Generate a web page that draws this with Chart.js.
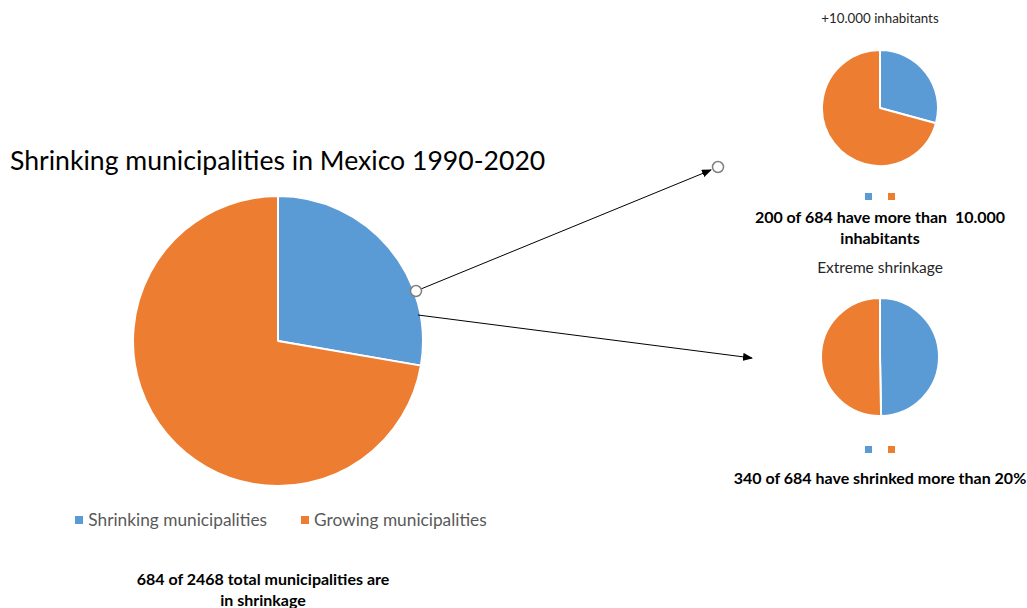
<!DOCTYPE html>
<html>
<head>
<meta charset="utf-8">
<script src="https://cdn.jsdelivr.net/npm/chart.js@4.4.1/dist/chart.umd.min.js"></script>
<style>
  body { margin: 0; width: 1027px; height: 608px; background: #fff; position: relative; overflow: hidden; font-family: Lato, "Open Sans", sans-serif; color: #000; }
  .abs { position: absolute; }
  .title { left: 10px; top: 145px; font-size: 26.6px; line-height: 30px; color: #000; white-space: nowrap; }
  .legend { left: 0; width: 562px; top: 509px; text-align: center; font-size: 17.3px; color: #595959; white-space: nowrap; }
  .legend span.item { margin: 0 17px; }
  .legend i { display: inline-block; width: 8px; height: 8px; margin-right: 5px; vertical-align: 2px; }
  .cap { text-align: center; font-weight: bold; font-size: 16px; line-height: 21px; white-space: nowrap; }
  .sub { text-align: center; font-size: 13px; color: #262626; white-space: nowrap; }
  .mini i { display: inline-block; width: 7px; height: 7px; margin: 0 8px; }
  svg { position: absolute; left: 0; top: 0; }
</style>
</head>
<body>
<div class="abs title">Shrinking municipalities in Mexico 1990-2020</div>
<canvas id="pieTotal" class="abs" width="292" height="292" style="left:132px;top:195px"></canvas>
<div id="legendTotal" class="abs legend"></div>
<div class="abs cap" style="left:113px;width:300px;top:568px">684 of 2468 total municipalities are<br>in shrinkage</div>

<div class="abs sub" style="left:780px;width:200px;top:10px;font-size:13.3px">+10.000 inhabitants</div>
<canvas id="pieBig" class="abs" width="118" height="118" style="left:821px;top:49px"></canvas>
<div id="miniBig" class="abs mini" style="left:780px;width:200px;top:184px;text-align:center"></div>
<div class="abs cap" style="left:730px;width:300px;top:206px">200 of 684 have more than&nbsp; 10.000<br>inhabitants</div>

<div class="abs sub" style="left:780px;width:200px;top:258px;font-size:15.5px">Extreme shrinkage</div>
<canvas id="pieExtreme" class="abs" width="120" height="120" style="left:820px;top:297px"></canvas>
<div id="miniExtreme" class="abs mini" style="left:780px;width:200px;top:437px;text-align:center"></div>
<div class="abs cap" style="left:730px;width:300px;top:467px">340 of 684 have shrinked more than 20%</div>

<svg width="1027" height="608">
  <defs>
    <marker id="head" markerWidth="10" markerHeight="8" refX="9" refY="4" orient="auto" markerUnits="userSpaceOnUse">
      <path d="M0,0 L10,4 L0,8 z" fill="#000"/>
    </marker>
  </defs>
  <line x1="416" y1="291" x2="711" y2="170" stroke="#000" stroke-width="1" marker-end="url(#head)"/>
  <circle cx="416" cy="291" r="5.5" fill="#fff" stroke="#7f7f7f" stroke-width="1.5"/>
  <circle cx="718" cy="167" r="5.5" fill="#fff" stroke="#7f7f7f" stroke-width="1.5"/>
  <line x1="418" y1="315" x2="752" y2="358" stroke="#000" stroke-width="1" marker-end="url(#head)"/>
</svg>

<script>
const categories = ["Shrinking municipalities", "Growing municipalities"];
const totalValues = [684, 1784];
const bigCityValues = [200, 484];
const extremeValues = [340, 344];
const sliceColors = ["#5B9BD5", "#ED7D31"];

function drawPie(id, values) {
  const canvas = document.getElementById(id);
  return new Chart(canvas, {
    type: "pie",
    data: {
      labels: categories,
      datasets: [
        {
          data: values,
          backgroundColor: sliceColors,
          borderColor: "#ffffff",
          borderWidth: 2,
        },
      ],
    },
    options: {
      responsive: false,
      animation: false,
      layout: { padding: 0 },
      plugins: {
        legend: { display: false },
        tooltip: { enabled: false },
      },
    },
  });
}

drawPie("pieTotal", totalValues);
drawPie("pieBig", bigCityValues);
drawPie("pieExtreme", extremeValues);

document.getElementById("legendTotal").innerHTML = categories
  .map((c, i) => `<span class="item"><i style="background:${sliceColors[i]}"></i>${c}</span>`)
  .join("");

const minis = sliceColors.map((c) => `<i style="background:${c}"></i>`).join("");
document.getElementById("miniBig").innerHTML = minis;
document.getElementById("miniExtreme").innerHTML = minis;
</script>
</body>
</html>
